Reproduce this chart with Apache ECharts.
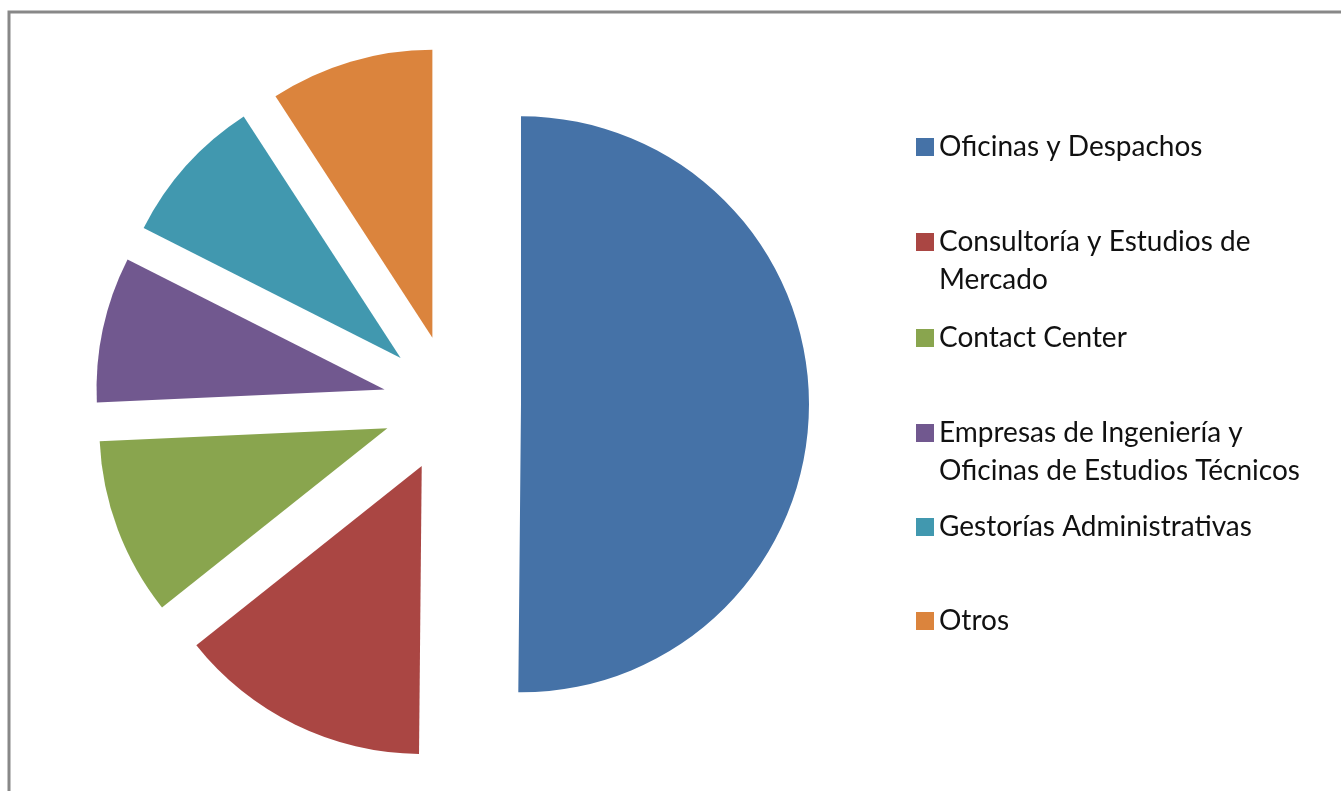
<!DOCTYPE html>
<html>
<head>
<meta charset="utf-8">
<script src="https://cdn.jsdelivr.net/npm/echarts@6/dist/echarts.min.js"></script>
<style>html,body{margin:0;padding:0;background:#fff;}#c{width:1341px;height:791px;}</style>
</head>
<body>
<div id="c"></div>
<script>
const categories = ["Oficinas y Despachos", "Consultoría y Estudios de Mercado", "Contact Center", "Empresas de Ingeniería y Oficinas de Estudios Técnicos", "Gestorías Administrativas", "Otros"];
const legendLines = [["Oficinas y Despachos"], ["Consultoría y Estudios de", "Mercado"], ["Contact Center"], ["Empresas de Ingeniería y", "Oficinas de Estudios Técnicos"], ["Gestorías Administrativas"], ["Otros"]];
const values = [50.3, 14.2, 10.0, 8.2, 8.4, 9.2];
const colors = ["#4572A7", "#AA4643", "#89A54E", "#71588F", "#4198AF", "#DB843D"];

const FONT = "Lato";
const FS = 28;
const LH = 38;
const legendCenters = [147, 242, 338, 433, 527, 621];

const legends = categories.map((name, i) => {
  const lines = legendLines[i];
  const multi = lines.length > 1;
  return {
    orient: 'vertical',
    left: 916,
    top: legendCenters[i] - (multi ? 1.5 * LH : LH / 2),
    padding: 0,
    itemWidth: 18,
    itemHeight: 18,
    icon: 'rect',
    selectedMode: false,
    data: [name],
    formatter: () => multi ? ' \n' + lines.join('\n') : lines[0],
    textStyle: { fontFamily: FONT, fontSize: FS, color: '#111', lineHeight: LH }
  };
});

const chart = echarts.init(document.getElementById('c'));
chart.setOption({
  animation: false,
  color: colors,
  legend: legends,
  graphic: [{
    type: 'rect',
    shape: { x: 9, y: 12, width: 1500, height: 1000 },
    style: { fill: 'none', stroke: '#888', lineWidth: 3 },
    silent: true
  }],
  series: [{
    type: 'pie',
    center: [452, 404],
    radius: 288,
    startAngle: 90,
    clockwise: true,
    selectedMode: 'multiple',
    selectedOffset: 69,
    label: { show: false },
    labelLine: { show: false },
    emphasis: { disabled: true },
    itemStyle: { borderWidth: 0 },
    data: categories.map((name, i) => ({ name: name, value: values[i], selected: true }))
  }]
});
</script>
</body>
</html>
